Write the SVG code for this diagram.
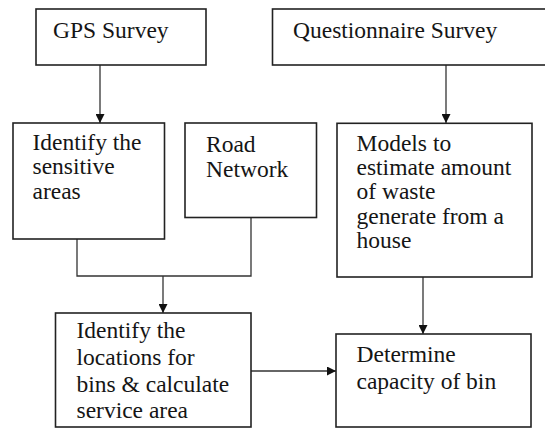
<svg xmlns="http://www.w3.org/2000/svg" width="545" height="428" viewBox="0 0 545 428">
<style>
.box{fill:#fff;stroke:#222;stroke-width:1.6}
.t{font-family:"Liberation Serif","Times New Roman",serif;font-size:23.5px;fill:#151515}
.c{fill:none;stroke:#333;stroke-width:1.3}
</style>
<defs>
<marker id="ah" viewBox="0 0 10 10" refX="10" refY="5" markerWidth="10" markerHeight="9" markerUnits="userSpaceOnUse" orient="auto">
<path d="M0,0 L10,5 L0,10 Z" fill="#111"/>
</marker>
</defs>
<rect width="545" height="428" fill="#fff"/>
<g id="connectors">
<line class="c" x1="100" y1="65" x2="100" y2="123" marker-end="url(#ah)"/>
<line class="c" x1="446" y1="65" x2="446" y2="123" marker-end="url(#ah)"/>
<path class="c" d="M77 239 V276 H251 V217.5"/>
<line class="c" x1="163" y1="276" x2="163" y2="313" marker-end="url(#ah)"/>
<line class="c" x1="423" y1="277" x2="423" y2="334" marker-end="url(#ah)"/>
<line class="c" x1="251" y1="371" x2="336" y2="371" marker-end="url(#ah)"/>
</g>
<g id="gps">
<rect class="box" x="36" y="9" width="170" height="56"/>
<text class="t" x="53" y="38">GPS Survey</text>
</g>
<g id="questionnaire">
<rect class="box" x="272.5" y="9" width="280" height="56"/>
<text class="t" x="293" y="37.5">Questionnaire Survey</text>
</g>
<g id="sensitive">
<rect class="box" x="13" y="123" width="151.5" height="116"/>
<text class="t" x="32.5" y="150">Identify the</text>
<text class="t" x="32.5" y="174">sensitive</text>
<text class="t" x="32.5" y="198.5">areas</text>
</g>
<g id="road">
<rect class="box" x="185" y="123" width="131.5" height="94.5"/>
<text class="t" x="206" y="151.5">Road</text>
<text class="t" x="206" y="176.5">Network</text>
</g>
<g id="models">
<rect class="box" x="337" y="123.3" width="195" height="153.7"/>
<text class="t" x="356.5" y="151">Models to</text>
<text class="t" x="356.5" y="175">estimate amount</text>
<text class="t" x="356.5" y="199">of waste</text>
<text class="t" x="356.5" y="224">generate from a</text>
<text class="t" x="356.5" y="248">house</text>
</g>
<g id="locations">
<rect class="box" x="55.5" y="313" width="195.5" height="114"/>
<text class="t" x="76.5" y="337.5">Identify the</text>
<text class="t" x="76.5" y="364.5">locations for</text>
<text class="t" x="76.5" y="391.5">bins &amp; calculate</text>
<text class="t" x="76.5" y="417.5">service area</text>
</g>
<g id="determine">
<rect class="box" x="336" y="334" width="195" height="93"/>
<text class="t" x="356.5" y="361.5">Determine</text>
<text class="t" x="356.5" y="389">capacity of bin</text>
</g>
</svg>
